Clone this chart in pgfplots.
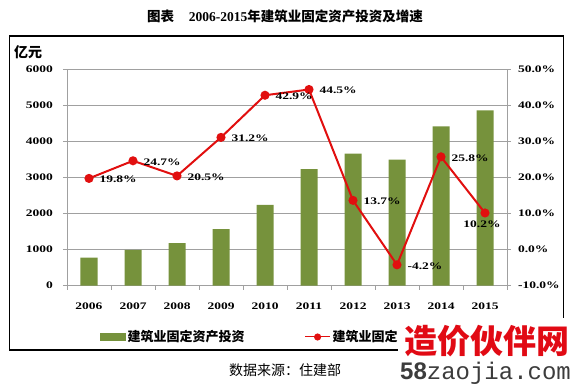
\documentclass[border=0pt]{standalone}
\usepackage{fontspec}
\setmainfont{Liberation Serif}
\newfontfamily\numfont{Liberation Serif}[FakeStretch=1.35]
\newfontfamily\cjk{Noto Sans CJK SC}
\newfontfamily\monof{Liberation Mono}
\newfontfamily\sansf{Liberation Sans}
\usepackage{pgfplots}
\pgfplotsset{compat=1.18}
\definecolor{barcol}{RGB}{118,146,60}
\definecolor{linecol}{RGB}{225,15,15}
\definecolor{gridcol}{RGB}{160,160,160}
\definecolor{wmred}{RGB}{225,10,20}
\definecolor{wmgray}{RGB}{60,60,60}
\begin{document}
\begin{tikzpicture}
\useasboundingbox (0,0) rectangle (574pt,387pt);
\begin{axis}[
  at={(67pt,101.3pt)}, anchor=south west,
  scale only axis, width=440pt, height=216pt,
  xmin=-0.5, xmax=9.5, ymin=0, ymax=6000,
  axis y line*=left, axis x line*=bottom,
  x axis line style={gridcol, dashed},
  y axis line style={gridcol},
  ytick={0,1000,...,6000},
  ymajorgrids, grid style={gridcol, line width=0.6pt},
  tick style={gridcol, line width=0.6pt},
  tick align=outside, major tick length=4pt,
  xtick={-0.5,0.5,...,9.5}, xticklabels={},
  extra x ticks={0,1,...,9},
  extra x tick labels={2006,2007,2008,2009,2010,2011,2012,2013,2014,2015},
  extra x tick style={major tick length=0pt, grid=none},
  /pgf/number format/assume math mode=true,
  /pgf/number format/1000 sep={},
  ticklabel style={font=\numfont\bfseries\fontsize{10}{12}\selectfont},
  yticklabel style={xshift=-6.5pt},
  xticklabel style={yshift=-14pt},
  clip=false,
]
\addplot[ybar, bar width=17pt, fill=barcol, draw=none] coordinates {
 (0,780) (1,995) (2,1180) (3,1570) (4,2245) (5,3238) (6,3672) (7,3505) (8,4423) (9,4868)};
\end{axis}
\begin{axis}[
  at={(67pt,101.3pt)}, anchor=south west,
  scale only axis, width=440pt, height=216pt,
  xmin=-0.5, xmax=9.5, ymin=-10, ymax=50,
  axis y line*=right, axis x line=none,
  y axis line style={gridcol},
  ytick={-10,0,...,50},
  yticklabel={\pgfmathprintnumber[fixed,fixed zerofill,precision=1]{\tick}\%},
  tick style={gridcol, line width=0.6pt},
  tick align=outside, major tick length=4pt,
  /pgf/number format/assume math mode=true,
  ticklabel style={font=\numfont\bfseries\fontsize{10}{12}\selectfont},
  yticklabel style={xshift=3.5pt},
  clip=false,
  legend style={at={(axis description cs:0.075,-0.2375)}, anchor=west,
    draw=none, fill=none, inner sep=0pt, legend columns=2,
    font=\cjk\bfseries\fontsize{13}{15}\selectfont,
    /tikz/every even column/.append style={column sep=58pt}},
]
\addlegendimage{legend image code/.code={\fill[barcol] (0pt,-3.5pt) rectangle (25pt,3.5pt);}}
\addlegendentry{建筑业固定资产投资}
\addplot[color=linecol, line width=2pt, mark=*, mark size=3.5pt,
  mark options={fill=linecol, draw=linecol},
  legend image code/.code={\draw[linecol, line width=1pt] (0pt,0pt) -- (25pt,0pt); \fill[linecol] (12.5pt,0pt) circle (2.5pt);}]
 coordinates {(0,19.8) (1,24.7) (2,20.5) (3,31.2) (4,42.9) (5,44.5) (6,13.7) (7,-4.2) (8,25.8) (9,10.2)};
\addlegendentry{建筑业固定资产投资增速}
\addplot[draw=none, mark=none, forget plot, point meta=y,
  nodes near coords={\pgfmathprintnumber[fixed,fixed zerofill,precision=1]{\pgfplotspointmeta}\%},
  every node near coord/.append style={anchor=west, xshift=7pt, yshift=-1pt, font=\numfont\bfseries\fontsize{10}{12}\selectfont, text=black}]
 coordinates {(0,19.8) (1,24.7) (2,20.5) (3,31.2) (4,42.9) (5,44.5) (6,13.7) (7,-4.2) (8,25.8)};
\addplot[draw=none, mark=none, forget plot, point meta=y,
  nodes near coords={\pgfmathprintnumber[fixed,fixed zerofill,precision=1]{\pgfplotspointmeta}\%},
  every node near coord/.append style={anchor=north, xshift=-3pt, yshift=-4pt, font=\numfont\bfseries\fontsize{10}{12}\selectfont, text=black}]
 coordinates {(9,10.2)};
\end{axis}
% frame and texts
\draw[black, line width=1.2pt] (9.5pt,351pt) rectangle (563.5pt,37pt);
\node[font=\bfseries\fontsize{13.5}{15}\selectfont] at (285pt,371pt)
  {{\cjk 图表}\hspace{1.1em}2006-2015{\cjk 年建筑业固定资产投资及增速}};
\node[font=\cjk\bfseries\fontsize{14}{16}\selectfont] at (28pt,334.5pt) {亿元};
\node[font=\cjk\fontsize{14}{16}\selectfont] at (285pt,17pt) {数据来源：住建部};
% watermark
\fill[white] (398pt,0pt) rectangle (574pt,69pt);
\node[font=\cjk\bfseries\fontsize{33}{35}\selectfont, text=wmred, inner sep=0pt] at (486.5pt,45.5pt) {造价伙伴网};
\node[anchor=west, inner sep=0pt, text=wmgray] at (400pt,14pt)
  {{\sansf\bfseries\fontsize{24}{26}\selectfont 58}{\monof\fontsize{24}{26}\selectfont zaojia.com}};
\end{tikzpicture}
\end{document}
